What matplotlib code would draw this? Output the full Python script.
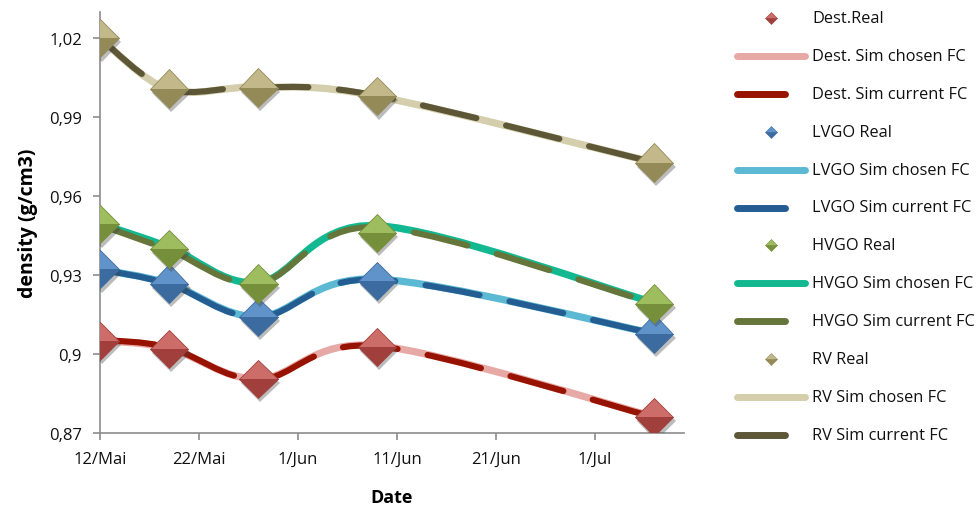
import datetime as dt
import numpy as np
import matplotlib
matplotlib.use("Agg")
import matplotlib.pyplot as plt
import matplotlib.dates as mdates
from matplotlib.path import Path
from matplotlib.patches import PathPatch
from matplotlib.lines import Line2D
import matplotlib.patheffects as pe
from matplotlib.ticker import FuncFormatter

plt.rcParams['font.family'] = ['Open Sans', 'DejaVu Sans']

# dates of the samples
dates = [dt.date(2013, 5, 12), dt.date(2013, 5, 19), dt.date(2013, 5, 28),
         dt.date(2013, 6, 9), dt.date(2013, 7, 7)]

# measured densities
dest_real = [0.905, 0.902, 0.8905, 0.9028, 0.876]
lvgo_real = [0.9322, 0.9268, 0.9142, 0.9277, 0.9078]
hvgo_real = [0.9493, 0.9400, 0.9268, 0.9460, 0.9192]
rv_real = [1.0200, 1.0009, 1.0013, 0.9980, 0.9728]

# simulated densities
dest_chosen = [0.9052, 0.9022, 0.8905, 0.9032, 0.8762]
dest_current = [0.9055, 0.9025, 0.8903, 0.9030, 0.8760]
lvgo_chosen = [0.9322, 0.9268, 0.9142, 0.9285, 0.9078]
lvgo_current = [0.9322, 0.9266, 0.9140, 0.9283, 0.9078]
hvgo_chosen = [0.9496, 0.9406, 0.9272, 0.9488, 0.9195]
hvgo_current = [0.9490, 0.9396, 0.9270, 0.9482, 0.9192]
rv_chosen = [1.0200, 1.0005, 1.0015, 0.9980, 0.9728]
rv_current = [1.0200, 1.0007, 1.0015, 0.9982, 0.9728]

tick_dates = [dt.date(2013, 5, 12), dt.date(2013, 5, 22), dt.date(2013, 6, 1),
              dt.date(2013, 6, 11), dt.date(2013, 6, 21), dt.date(2013, 7, 1)]
tick_labels = ['12/Mai', '22/Mai', '1/Jun', '11/Jun', '21/Jun', '1/Jul']
y_ticks = [0.87, 0.90, 0.93, 0.96, 0.99, 1.02]

real_labels = ['Dest.Real', 'LVGO Real', 'HVGO Real', 'RV Real']
chosen_labels = ['Dest. Sim chosen FC', 'LVGO Sim chosen FC', 'HVGO Sim chosen FC', 'RV Sim chosen FC']
current_labels = ['Dest. Sim current FC', 'LVGO Sim current FC', 'HVGO Sim current FC', 'RV Sim current FC']

# colours: (marker top, marker bottom, chosen line, current line)
colors = [
    ('#cd6d69', '#a13f3c', '#e6a9a6', '#981200'),
    ('#5f93c9', '#3c6c9f', '#5cb9d3', '#245d91'),
    ('#9dbd5e', '#768f3b', '#12b890', '#66763a'),
    ('#c3b88a', '#938a58', '#d4ceac', '#5d5637'),
]


def smooth_path(x, y):
    # Excel-like smoothed line as cubic bezier segments
    pts = np.column_stack([x, y])
    n = len(pts)
    verts = [pts[0]]
    codes = [Path.MOVETO]
    for i in range(n - 1):
        p0 = pts[i - 1] if i > 0 else pts[i]
        p1 = pts[i]
        p2 = pts[i + 1]
        p3 = pts[i + 2] if i + 2 < n else pts[i + 1]
        c1 = p1 + (p2 - p0) / 6.0
        c2 = p2 - (p3 - p1) / 6.0
        verts += [c1, c2, p2]
        codes += [Path.CURVE4] * 3
    return Path(verts, codes)


fig = plt.figure(figsize=(9.8, 5.1), dpi=100)
ax = fig.add_axes([100 / 980, 76 / 510, 584 / 980, 421 / 510])

xd = mdates.date2num(dates)
reals = [dest_real, lvgo_real, hvgo_real, rv_real]
chosens = [dest_chosen, lvgo_chosen, hvgo_chosen, rv_chosen]
currents = [dest_current, lvgo_current, hvgo_current, rv_current]

shadow = [pe.SimplePatchShadow(offset=(1.5, -3), shadow_rgbFace='#404040', alpha=0.35), pe.Normal()]

for k in range(4):
    top, bot, cch, ccu = colors[k]
    ax.add_patch(PathPatch(smooth_path(xd, chosens[k]), fill=False, ec=cch, lw=5.2,
                           capstyle='round', joinstyle='round', zorder=2 + k * 0.1))
    ax.add_patch(PathPatch(smooth_path(xd, currents[k]), fill=False, ec=ccu, lw=4.4,
                           linestyle=(0, (9.0, 5.0)), capstyle='round', joinstyle='round',
                           zorder=2.05 + k * 0.1))

for k in range(4):
    top, bot, cch, ccu = colors[k]
    ax.plot(xd, reals[k], linestyle='none', marker='D', markersize=19.5,
            fillstyle='top', markerfacecolor=top, markerfacecoloralt=bot,
            markeredgecolor=bot, markeredgewidth=0.6, zorder=5,
            path_effects=shadow)

ax.set_xlim(mdates.date2num(dt.date(2013, 5, 12)), mdates.date2num(dt.date(2013, 7, 10)))
ax.set_ylim(0.87, 1.03)
ax.set_xticks(mdates.date2num(tick_dates))
ax.set_xticklabels(tick_labels)
ax.set_yticks(y_ticks)
ax.yaxis.set_major_formatter(FuncFormatter(lambda v, p: ('%.2f' % v).rstrip('0').replace('.', ',')))

for s in ['top', 'right']:
    ax.spines[s].set_visible(False)
for s in ['left', 'bottom']:
    ax.spines[s].set_color('#8c8c8c')
    ax.spines[s].set_linewidth(1.2)
    ax.spines[s].set_zorder(1)
ax.tick_params(axis='both', direction='out', length=5, width=1.2, color='#8c8c8c',
               labelsize=12, pad=8, labelcolor='#111111')
ax.set_xlabel('Date', fontsize=13, fontweight='bold', labelpad=15)
ax.set_ylabel('density (g/cm3)', fontsize=14, fontweight='bold', labelpad=8)

# legend drawn on the figure
row_y = 510 - 19
step = 37.9
fs = 11.8
for k in range(4):
    top, bot, cch, ccu = colors[k]
    for j, (lab, kind) in enumerate([(real_labels[k], 'real'), (chosen_labels[k], 'chosen'),
                                     (current_labels[k], 'current')]):
        yy = (row_y - (k * 3 + j) * step) / 510
        if kind == 'real':
            fig.add_artist(Line2D([771 / 980], [yy], marker='D', markersize=6, linestyle='none',
                                  fillstyle='top', markerfacecolor=top, markerfacecoloralt=bot,
                                  markeredgecolor=bot, markeredgewidth=0.4))
        elif kind == 'chosen':
            fig.add_artist(Line2D([737 / 980, 805 / 980], [yy, yy], color=cch, lw=5,
                                  solid_capstyle='round'))
        else:
            fig.add_artist(Line2D([737 / 980, 785 / 980], [yy, yy], color=ccu, lw=5,
                                  solid_capstyle='round'))
        fig.text(812 / 980, yy, lab, fontsize=fs, va='center', ha='left', color='#111111')

fig.savefig('out.png', dpi=100)
